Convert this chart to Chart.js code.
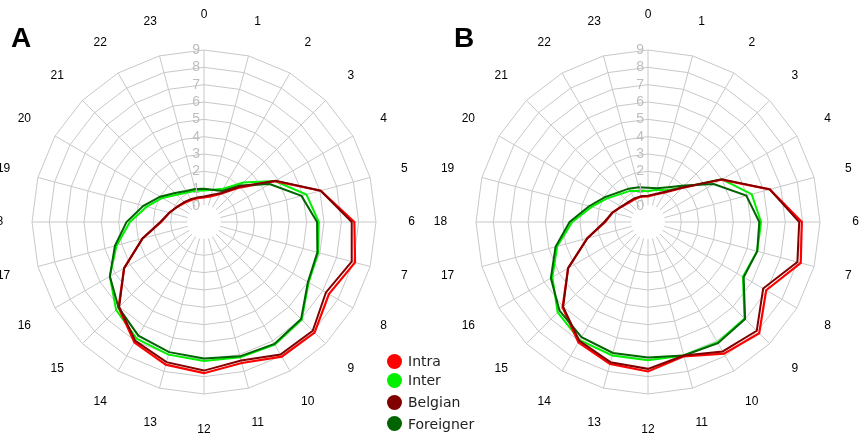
<!DOCTYPE html>
<html>
<head>
<meta charset="utf-8">
<script src="https://cdn.jsdelivr.net/npm/chart.js@4.4.1/dist/chart.umd.min.js"></script>
<style>
html,body{margin:0;padding:0;background:#fff;overflow:hidden;width:861px;height:433px;}
#wrap{position:relative;width:861px;height:433px;overflow:hidden;}
canvas{position:absolute;top:0;}
#cA{left:0;}
#cB{left:430px;}
.panel{position:absolute;font:bold 28px "Liberation Sans",Arial,sans-serif;line-height:28px;color:#000;}
.leg{position:absolute;left:387px;height:16px;display:flex;align-items:center;font:14px "DejaVu Sans",sans-serif;line-height:16px;color:#222;white-space:nowrap;}
.dot{width:15px;height:15px;border-radius:50%;margin-right:6px;flex:none;}
</style>
</head>
<body>
<div id="wrap">
  <canvas id="cA" width="430" height="433" style="width:430px;height:433px"></canvas>
  <canvas id="cB" width="431" height="433" style="width:431px;height:433px"></canvas>
  <div class="panel" style="left:11px;top:24px">A</div>
  <div class="panel" style="left:454px;top:24px">B</div>
  <div id="legend"></div>
</div>
<script>
// ---- data ----
const hours = ['0','1','2','3','4','5','6','7','8','9','10','11','12','13','14','15','16','17','18','19','20','21','22','23'];
const seriesNames = ['Intra','Inter','Belgian','Foreigner'];
const seriesColors = ['#ff0000','#00f000','#800000','#006400'];

const intraA     = [0.5,0.6,0.95,1.85,3.8,6.05,7.75,8.1,7.4,8.1,8.05,7.5,7.8,7.6,7.1,6.05,4.4,2.75,1.55,1.15,0.85,0.65,0.55,0.5];
const interA     = [0.9,1.0,1.3,2.3,3.8,5.2,5.7,5.9,6.05,7.05,7.25,7.15,7.1,7.0,6.85,6.25,5.35,4.3,3.35,2.5,1.85,1.3,1.05,0.95];
const belgianA   = [0.55,0.7,1.0,1.95,3.85,6.05,7.6,7.9,7.2,7.95,7.9,7.35,7.65,7.45,7.0,6.0,4.4,2.75,1.6,1.15,0.85,0.7,0.6,0.55];
const foreignerA = [1.0,1.0,1.15,2.05,3.45,4.9,5.6,5.85,6.0,7.0,7.2,7.1,6.95,6.85,6.65,6.05,5.35,4.4,3.55,2.7,2.0,1.45,1.15,1.05];

const intraB     = [0.55,0.72,1.05,1.85,3.95,6.35,7.95,8.2,6.95,8.15,7.85,7.1,7.7,7.55,7.1,6.05,4.4,2.7,1.55,1.2,0.85,0.65,0.6,0.6];
const interB     = [0.85,1.0,1.2,1.9,4.0,5.27,5.6,5.6,5.4,6.95,7.1,7.05,7.05,7.05,6.95,6.45,5.45,4.5,3.45,2.45,1.8,1.35,1.15,0.95];
const belgianB   = [0.6,0.75,1.1,1.9,4.0,6.35,7.8,8.0,6.75,7.95,7.7,7.05,7.55,7.45,7.0,6.0,4.4,2.7,1.6,1.2,0.85,0.7,0.65,0.62];
const foreignerB = [1.05,1.1,1.4,2.05,3.45,4.95,5.5,5.6,5.45,7.0,7.15,7.05,6.9,6.9,6.75,6.3,5.55,4.6,3.6,2.6,1.95,1.5,1.3,1.15];

const axisMin = -0.92, axisMax = 9;

// ---- plugin: hole in the middle + hour labels ----
const hourRing = {
  id: 'hourRing',
  beforeDatasetsDraw(chart) {
    const s = chart.scales.r, ctx = chart.ctx;
    ctx.save();
    ctx.fillStyle = '#ffffff';
    ctx.beginPath();
    ctx.arc(s.xCenter, s.yCenter, s.getDistanceFromCenterForValue(0) + 1, 0, Math.PI * 2);
    ctx.fill();
    ctx.restore();
  },
  afterDraw(chart) {
    const s = chart.scales.r, ctx = chart.ctx;
    ctx.save();
    ctx.font = '12px "Liberation Sans", Arial, sans-serif';
    ctx.fillStyle = '#000';
    ctx.textAlign = 'center';
    ctx.textBaseline = 'middle';
    chart.data.labels.forEach((lab, i) => {
      const p = s.getPointPosition(i, s.drawingArea + 35.5);
      ctx.fillText(lab, p.x, p.y);
    });
    ctx.restore();
  }
};

function makeChart(id, arrs, pad) {
  const orders = [2, 3, 0, 1];
  const widths = [2.2, 2, 2, 2];
  const datasets = arrs.map((d, i) => ({
    label: seriesNames[i],
    data: d,
    borderColor: seriesColors[i],
    backgroundColor: 'transparent',
    borderWidth: widths[i],
    fill: false,
    pointRadius: 0,
    tension: 0,
    order: orders[i]
  }));
  return new Chart(document.getElementById(id), {
    type: 'radar',
    data: { labels: hours, datasets },
    plugins: [hourRing],
    options: {
      responsive: false,
      animation: false,
      devicePixelRatio: 1,
      layout: { padding: pad },
      plugins: { legend: { display: false }, tooltip: { enabled: false } },
      elements: { line: { tension: 0, fill: false }, point: { radius: 0 } },
      scales: {
        r: {
          min: axisMin,
          max: axisMax,
          startAngle: 0,
          grid: { color: '#c8c8c8', lineWidth: 1, circular: false },
          angleLines: { color: '#c8c8c8', lineWidth: 1 },
          pointLabels: { display: false },
          ticks: {
            stepSize: 1,
            includeBounds: false,
            z: 1,
            showLabelBackdrop: false,
            backdropPadding: 0,
            color: '#bdbdbd',
            font: { family: '"Liberation Sans", Arial, sans-serif', size: 14 },
            callback: (v) => (v < 0 ? '' : String(v) + '\u2007\u2007')
          }
        }
      }
    }
  });
}

makeChart('cA', [intraA, interA, belgianA, foreignerA], { left: 25, top: 43, right: 46, bottom: 31 });
makeChart('cB', [intraB, interB, belgianB, foreignerB], { left: 39, top: 43, right: 33, bottom: 31 });

// ---- legend (HTML) ----
const legendCenters = [361, 380, 402, 423.5];
const lg = document.getElementById('legend');
seriesNames.forEach((n, i) => {
  const d = document.createElement('div');
  d.className = 'leg';
  d.style.top = (legendCenters[i] - 8) + 'px';
  d.innerHTML = '<span class="dot" style="background:' + seriesColors[i] + '"></span><span>' + n + '</span>';
  lg.appendChild(d);
});
</script>
</body>
</html>
